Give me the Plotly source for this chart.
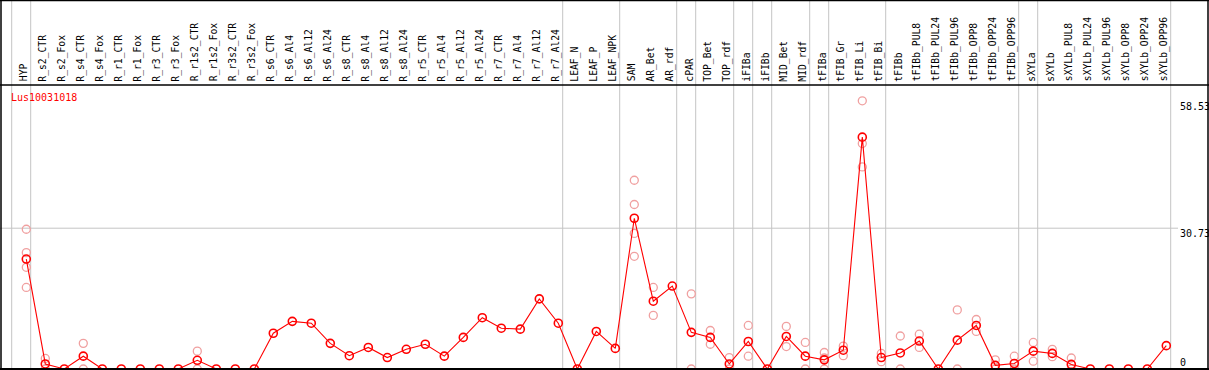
import plotly.graph_objects as go

# ---------------- data ----------------
categories = ["HYP", "R_s2_CTR", "R_s2_Fox", "R_s4_CTR", "R_s4_Fox", "R_r1_CTR", "R_r1_Fox",
              "R_r3_CTR", "R_r3_Fox", "R_r1s2_CTR", "R_r1s2_Fox", "R_r3s2_CTR", "R_r3s2_Fox",
              "R_s6_CTR", "R_s6_Al4", "R_s6_Al12", "R_s6_Al24", "R_s8_CTR", "R_s8_Al4", "R_s8_Al12",
              "R_s8_Al24", "R_r5_CTR", "R_r5_Al4", "R_r5_Al12", "R_r5_Al24", "R_r7_CTR", "R_r7_Al4",
              "R_r7_Al12", "R_r7_Al24", "LEAF_N", "LEAF_P", "LEAF_NPK", "SAM", "AR_Bet", "AR_rdf",
              "cPAR", "TOP_Bet", "TOP_rdf", "iFIBa", "iFIBb", "MID_Bet", "MID_rdf", "tFIBa",
              "tFIB_Gr", "tFIB_Li", "tFIB_Bi", "tFIBb", "tFIBb_PUL8", "tFIBb_PUL24", "tFIBb_PUL96",
              "tFIBb_OPP8", "tFIBb_OPP24", "tFIBb_OPP96", "sXYLa", "sXYLb", "sXYLb_PUL8",
              "sXYLb_PUL24", "sXYLb_PUL96", "sXYLb_OPP8", "sXYLb_OPP24", "sXYLb_OPP96"]

mean_values = [24.0, 1.1, 0, 2.8, 0, 0, 0, 0, 0, 1.9, 0, 0, 0,
               7.8, 10.4, 10.0, 5.6, 2.9, 4.7, 2.5, 4.3, 5.4, 2.8, 6.9, 11.2, 8.9, 8.7, 15.3, 10.0,
               0, 8.2, 4.5,
               32.9, 14.8, 18.1, 8.0, 6.9, 1.1, 6.0, 0, 7.1, 2.8, 2.0, 4.1, 50.6, 2.5,
               3.5, 6.1, 0, 6.3, 9.5, 0.8, 1.2,
               3.9, 3.4, 1.0, 0, 0, 0, 0, 5.1]

replicate_values = [
    [30.5, 25.4, 22.2, 17.8], [2.3, 0.0], [], [5.6, 0.0], [], [], [], [], [], [3.9, 0.0], [], [], [],
    [], [], [], [], [], [], [], [], [], [], [], [], [], [], [], [],
    [], [], [],
    [41.2, 35.9, 29.6, 24.6], [17.8, 11.7], [], [16.4, 0.0], [8.4, 5.4], [2.5, 0.0], [9.5, 2.8], [],
    [9.3, 4.9], [5.8, 0.0], [3.6, 2.4, 0.0], [5.0, 2.9], [58.53, 49.2, 44.1], [3.4, 1.6],
    [7.2, 0.0], [7.6, 4.7], [], [12.9, 0.0], [10.8, 8.2], [2.0, 0.0], [2.8, 0.0],
    [5.8, 1.7], [4.3, 2.7], [2.4, 0.0], [], [], [], [], [],
]

group_separators = [-1, 0, 28, 31, 34, 35, 37, 38, 39, 41, 42, 45, 52, 53, 60]
axis_tick_values = [58.53, 30.73, 0]
axis_tick_labels = ["58.53", "30.73", "0"]
gene_name = "Lus10031018"

# ---------------- geometry ----------------
W, H = 1209, 370
X0_PX, DX = 26.3, 19.0          # pixel of first category, pixels per category
Y0_PX, SY = 369.0, 4.5817        # pixel of value 0, pixels per unit
x_range = [-X0_PX / DX, (W - X0_PX) / DX]
y_range = [(Y0_PX - H) / SY, Y0_PX / SY]


def py(px):
    return 1 - px / H


def pxx(px):
    return px / W


idx = list(range(len(categories)))
MONO = "DejaVu Sans Mono, Liberation Mono, monospace"

fig = go.Figure()

# replicate points
rx, ry = [], []
for i, reps in enumerate(replicate_values):
    for v in reps:
        rx.append(i)
        ry.append(v)
fig.add_trace(go.Scatter(
    x=rx, y=ry, mode="markers",
    marker=dict(symbol="circle-open", size=8, color="#f0a0a0", line=dict(width=1.3, color="#f0a0a0")),
    hoverinfo="skip", showlegend=False, cliponaxis=False))

# mean line
fig.add_trace(go.Scatter(
    x=idx, y=mean_values, mode="lines+markers",
    line=dict(color="#ff0000", width=1.1),
    marker=dict(symbol="circle-open", size=8, color="#ff0000", line=dict(width=1.6, color="#ff0000")),
    showlegend=False, cliponaxis=False))

shapes = []
# vertical group separators
for s in group_separators:
    xs = s + 4.4 / DX
    shapes.append(dict(type="line", xref="x", yref="paper", x0=xs, x1=xs, y0=0, y1=1,
                       line=dict(color="#c4c4c4", width=1), layer="below"))
# horizontal grid at middle tick
shapes.append(dict(type="line", xref="paper", yref="y", x0=0, x1=pxx(1178), y0=axis_tick_values[1],
                   y1=axis_tick_values[1], line=dict(color="#c4c4c4", width=1), layer="below"))
# frame
black = dict(color="#000000", width=1.5)
shapes.append(dict(type="line", xref="paper", yref="paper", x0=0, x1=1, y0=py(0.5), y1=py(0.5), line=black))
shapes.append(dict(type="line", xref="paper", yref="paper", x0=0, x1=1, y0=py(85), y1=py(85), line=black))
shapes.append(dict(type="line", xref="paper", yref="paper", x0=0, x1=1, y0=py(369), y1=py(369),
                   line=dict(color="#000000", width=2)))
shapes.append(dict(type="line", xref="paper", yref="paper", x0=pxx(1), x1=pxx(1), y0=0, y1=1, line=black))
shapes.append(dict(type="line", xref="paper", yref="paper", x0=pxx(1208), x1=pxx(1208), y0=0, y1=1, line=black))

annotations = []
for i, c in enumerate(categories):
    annotations.append(dict(x=i - 0.14, xref="x", y=py(83.5), yref="paper", text=c, textangle=-90,
                            showarrow=False, xanchor="center", yanchor="bottom",
                            font=dict(family=MONO, size=9.7, color="#000000")))
annotations.append(dict(x=pxx(9), xref="paper", y=py(97), yref="paper", text=gene_name,
                        showarrow=False, xanchor="left", yanchor="middle",
                        font=dict(family=MONO, size=10, color="#ff0000")))
tick_px = [107, 233, 362]
for lab, tp in zip(axis_tick_labels, tick_px):
    annotations.append(dict(x=pxx(1178), xref="paper", y=py(tp), yref="paper", text=lab,
                            showarrow=False, xanchor="left", yanchor="middle",
                            font=dict(family=MONO, size=10, color="#000000")))

fig.update_layout(
    width=W, height=H, margin=dict(l=0, r=0, t=0, b=0),
    paper_bgcolor="#ffffff", plot_bgcolor="#ffffff",
    xaxis=dict(range=x_range, visible=False, fixedrange=True),
    yaxis=dict(range=y_range, visible=False, fixedrange=True),
    shapes=shapes, annotations=annotations, showlegend=False,
)

fig.write_html("out.html", config={"displayModeBar": False},
               post_script="document.body.style.margin='0';document.body.style.overflow='hidden';")
